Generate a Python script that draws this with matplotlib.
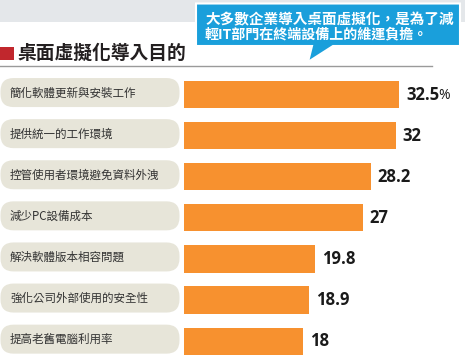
"""桌面虛擬化導入目的 橫條圖."""
import matplotlib
matplotlib.use("Agg")
import matplotlib.pyplot as plt
from matplotlib.patches import FancyBboxPatch, Rectangle, Polygon

plt.rcParams["font.family"] = ["Noto Sans CJK TC", "DejaVu Sans"]

# 資料
categories = [
    "簡化軟體更新與安裝工作",
    "提供統一的工作環境",
    "控管使用者環境避免資料外洩",
    "減少PC設備成本",
    "解決軟體版本相容問題",
    "強化公司外部使用的安全性",
    "提高老舊電腦利用率",
]
values = [32.5, 32, 28.2, 27, 19.8, 18.9, 18]
value_labels = ["32.5", "32", "28.2", "27", "19.8", "18.9", "18"]
title = "桌面虛擬化導入目的"
callout_lines = ["大多數企業導入桌面虛擬化，是為了減", "輕IT部門在終端設備上的維運負擔。"]

W, H = 465, 364
BAR_COLOR = "#f7912f"
PILL_COLOR = "#e7e5d9"
BLUE = "#1a9fdb"

fig = plt.figure(figsize=(W / 100, H / 100), dpi=100)
fig.patch.set_facecolor("white")

# 背景座標軸 (像素座標, 原點在左上)
bg = fig.add_axes([0, 0, 1, 1])
bg.set_xlim(0, W)
bg.set_ylim(H, 0)
bg.axis("off")

# 長條圖座標軸
px_per_unit = 6.63
x0 = 184
top, bottom = 74, 361.7
ax = fig.add_axes([x0 / W, (H - bottom) / H, (W - x0) / W, (bottom - top) / H])
ax.set_xlim(0, (W - x0) / px_per_unit)
ax.set_ylim(len(categories) - 0.5, -0.5)
ax.axis("off")
ax.patch.set_alpha(0)

ypos = list(range(len(categories)))
ax.barh(ypos, values, height=0.66, color=BAR_COLOR)

for i, (v, lab) in enumerate(zip(values, value_labels)):
    t = ax.text(v + 1.0, i, lab, fontsize=12, fontweight="bold", color="#1a1a1a",
                va="center", ha="left", family=["Open Sans", "DejaVu Sans"])
    if i == 0:
        ax.annotate("%", xy=(1, 0.45), xycoords=t, xytext=(-0.5, 0),
                    textcoords="offset points", va="center", ha="left",
                    fontsize=10, color="#1a1a1a", family=["Open Sans", "DejaVu Sans"])

# 左側標籤 (圓角底)
for i, cat in enumerate(categories):
    yc = H - ax.transData.transform((0, i))[1] - 2
    pill = FancyBboxPatch((0.5, yc - 14.5), 179, 29,
                          boxstyle="round,pad=0,rounding_size=13",
                          facecolor=PILL_COLOR, edgecolor="none")
    bg.add_patch(pill)
    bg.text(10, yc + 0.5, cat, fontsize=8.3, color="#333333", va="center", ha="left")

# 上方灰色帶
bg.add_patch(Rectangle((0, 0), W, 22, facecolor="#e4e7ea", edgecolor="none"))

# 標題
bg.add_patch(Rectangle((0, 46.5), 13.5, 13.5, facecolor="#c1272d", edgecolor="none"))
bg.text(17, 53.5, title, fontsize=13.5, fontweight="bold", color="#231f20",
        va="center", ha="left")
bg.plot([0, 432], [66, 66], color="#9a9a9a", lw=1)

# 說明框
pts = [(196, 3.5), (460, 3.5), (460, 46), (333, 46), (308, 62), (312, 46), (196, 46)]
bg.add_patch(Polygon(pts, closed=True, facecolor=BLUE, edgecolor="white", lw=1.5))
bg.text(205, 19, callout_lines[0], fontsize=10.5, fontweight="bold", color="white",
        va="center", ha="left")
bg.text(205, 34, callout_lines[1], fontsize=10.1, fontweight="bold", color="white",
        va="center", ha="left")

fig.savefig("out.png", dpi=100)
plt.close(fig)
